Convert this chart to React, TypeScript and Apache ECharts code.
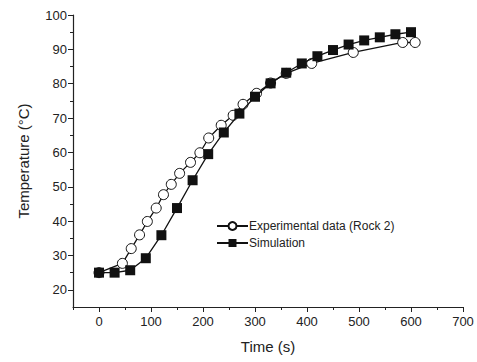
import React, { useEffect, useRef } from "react";
import * as echarts from "echarts";

const expTime = [0, 45, 62, 78, 93, 110, 124, 139, 155, 176, 194, 211, 235, 258, 277, 303, 330, 360, 409, 489, 584, 608];
const expTemp = [25, 27.7, 32, 36, 39.9, 43.8, 47.7, 50.7, 53.9, 57.1, 59.9, 64.2, 67.9, 70.8, 74, 77.2, 80.2, 83, 85.9, 89.1, 92, 92];

const simTime = [0, 30, 60, 90, 120, 150, 180, 210, 240, 270, 300, 330, 360, 390, 420, 450, 480, 510, 540, 570, 600];
const simTemp = [25, 25, 25.7, 29.2, 35.9, 43.8, 51.9, 59.5, 65.8, 71.3, 76.2, 80.1, 83.2, 85.9, 88, 89.8, 91.4, 92.6, 93.5, 94.4, 95];

const xMajor = [0, 100, 200, 300, 400, 500, 600, 700];
const xMinor = [-50, 50, 150, 250, 350, 450, 550, 650];
const yMajor = [20, 30, 40, 50, 60, 70, 80, 90, 100];
const yMinor = [25, 35, 45, 55, 65, 75, 85, 95];

const FONT = "'Liberation Sans', Arial, sans-serif";
const AX = "#222";

export default function App() {
  const ref = useRef<HTMLDivElement>(null);
  useEffect(() => {
    if (!ref.current) return;
    const chart = echarts.init(ref.current, null, { renderer: "svg" });
    const xBase = {
      type: "value",
      min: -50,
      max: 700,
      interval: 50,
      splitLine: { show: false },
    };
    const yBase = {
      type: "value",
      min: 15,
      max: 100,
      interval: 5,
      splitLine: { show: false },
    };
    chart.setOption({
      animation: false,
      backgroundColor: "#fff",
      grid: { left: 73, right: 14, top: 15, bottom: 55, containLabel: false },
      legend: {
        orient: "vertical",
        left: 211,
        top: 215,
        itemWidth: 31,
        itemHeight: 10,
        itemGap: 5,
        textStyle: { fontFamily: FONT, fontSize: 12, color: AX, padding: [0, 0, 0, -4] },
        data: ["Experimental data (Rock 2)", "Simulation"],
      },
      xAxis: [
        {
          ...xBase,
          name: "Time (s)",
          nameLocation: "middle",
          nameGap: 32,
          nameTextStyle: { fontFamily: FONT, fontSize: 15, color: AX },
          axisLine: { show: true, onZero: false, lineStyle: { color: AX, width: 1.2 } },
          axisTick: { show: true, length: 5, customValues: xMajor, lineStyle: { color: AX } },
          axisLabel: { customValues: xMajor, fontFamily: FONT, fontSize: 13, color: AX, margin: 8 },
        },
        {
          ...xBase,
          position: "bottom",
          axisLine: { show: false, onZero: false },
          axisTick: { show: true, length: 3, customValues: xMinor, lineStyle: { color: AX } },
          axisLabel: { show: false },
        },
      ],
      yAxis: [
        {
          ...yBase,
          name: "Temperature (°C)",
          nameLocation: "middle",
          nameGap: 42,
          nameTextStyle: { fontFamily: FONT, fontSize: 15, color: AX },
          axisLine: { show: true, onZero: false, lineStyle: { color: AX, width: 1.2 } },
          axisTick: { show: true, length: 5, customValues: yMajor, lineStyle: { color: AX } },
          axisLabel: { customValues: yMajor, fontFamily: FONT, fontSize: 13, color: AX, margin: 6 },
        },
        {
          ...yBase,
          position: "left",
          axisLine: { show: false, onZero: false },
          axisTick: { show: true, length: 3, customValues: yMinor, lineStyle: { color: AX } },
          axisLabel: { show: false },
        },
      ],
      series: [
        {
          name: "Experimental data (Rock 2)",
          type: "line",
          data: expTime.map((t, i) => [t, expTemp[i]]),
          symbol: "circle",
          symbolSize: 10,
          lineStyle: { color: "#111", width: 1.3 },
          itemStyle: { color: "#fff", borderColor: "#111", borderWidth: 1 },
          z: 2,
        },
        {
          name: "Simulation",
          type: "line",
          data: simTime.map((t, i) => [t, simTemp[i]]),
          symbol: "rect",
          symbolSize: 10,
          lineStyle: { color: "#111", width: 1.3 },
          itemStyle: { color: "#111", borderColor: "#111", borderWidth: 0 },
          z: 3,
        },
      ],
    });
    return () => chart.dispose();
  }, []);
  return <div ref={ref} style={{ width: 477, height: 362, position: "absolute", left: 0, top: 0 }} />;
}
